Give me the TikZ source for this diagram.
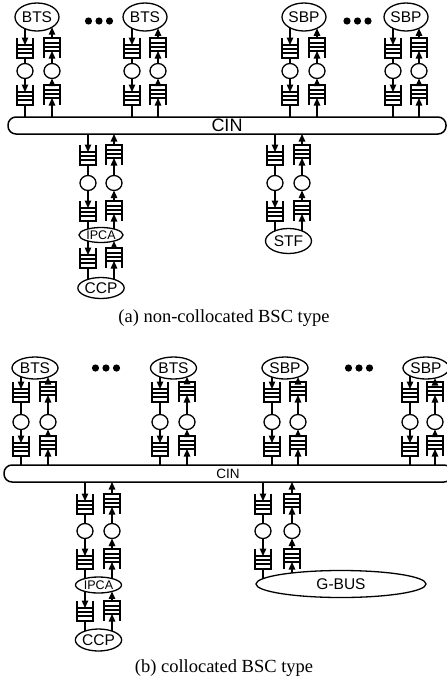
\documentclass[tikz,border=0pt]{standalone}
\usepackage{fontspec}
\setmainfont{Liberation Serif}
\newfontfamily\lsans{Liberation Sans}
\usetikzlibrary{arrows.meta,shapes.geometric,calc}

\tikzset{
  qbox/.style={minimum width=16pt, minimum height=20pt, inner sep=0pt, outer sep=0pt},
  smc/.style={ellipse, draw, minimum width=16pt, minimum height=15pt, inner sep=0pt, outer sep=0pt},
  ell/.style={ellipse, draw, inner sep=0pt, outer sep=0pt, font=\lsans\fontsize{15.5}{15.5}\selectfont},
  bar/.style={draw, rounded corners=8pt, inner sep=0pt, outer sep=0pt, line width=1.5pt},
  arr/.style={-{Triangle[length=7.5pt,width=6.5pt]}},
  captxt/.style={font=\fontsize{18.5}{20}\selectfont, inner sep=0pt},
}

\newcommand\EllPt[4]{%
  \path let \p1=(#1.center), \p2=(#2.center), \p3=(#2.east), \p4=(#2.#4) in
    (\x1,{\y2+(\y4-\y2)*sqrt(1-((\x1-\x2)/(\x3-\x2))^2)}) coordinate (#3);}

\newcommand\DQ[3]{%
  \node[qbox] (#1) at (#2,#3) {};
  \draw (#1.north west) -- (#1.south west) -- (#1.south east) -- (#1.north east)
    ([yshift=-7pt]#1.north west) -- ([yshift=-7pt]#1.north east)
    ([yshift=-11pt]#1.north west) -- ([yshift=-11pt]#1.north east)
    ([yshift=-15pt]#1.north west) -- ([yshift=-15pt]#1.north east);}
\newcommand\UQ[3]{%
  \node[qbox] (#1) at (#2,#3) {};
  \draw (#1.south west) -- (#1.north west) -- (#1.north east) -- (#1.south east)
    ([yshift=7pt]#1.south west) -- ([yshift=7pt]#1.south east)
    ([yshift=11pt]#1.south west) -- ([yshift=11pt]#1.south east)
    ([yshift=15pt]#1.south west) -- ([yshift=15pt]#1.south east);}
\newcommand\SC[3]{\node[smc] (#1) at (#2,#3) {};}

\newcommand\Qset[3]{%
  \DQ{#1d1}{#2}{\QyA}\SC{#1dc}{#2}{\QyB}\DQ{#1d2}{#2}{\QyC}
  \UQ{#1u1}{#3}{\QyA}\SC{#1uc}{#3}{\QyB}\UQ{#1u2}{#3}{\QyC}
  \draw (#1d1.south) -- (#1dc.north);
  \draw[arr] (#1dc.south) -- ([yshift=-7pt]#1d2.north);
  \draw[arr] (#1u2.north) -- (#1uc.south);
  \draw[arr] (#1uc.north) -- ([yshift=7pt]#1u1.south);}

\newcommand\TopGrp[5]{%
  \node[ell, minimum width=\EWd, minimum height=\EHt] (#1e) at (#4,\QyE) {#5};
  \Qset{#1}{#2}{#3}
  \EllPt{#1d1}{#1e}{#1el}{south}\EllPt{#1u1}{#1e}{#1er}{south}
  \draw[arr] (#1el) -- ([yshift=-7pt]#1d1.north);
  \draw[arr] (#1u1.north) -- (#1er);
  \draw (#1d2.south) -- (#1d2.south |- \QBar.north);
  \draw[arr] (\QBar.north -| #1u2) -- ([yshift=7pt]#1u2.south);}

\newcommand\LowTop[3]{%
  \Qset{#1}{#2}{#3}
  \draw[arr] (\QBar.south -| #1d1) -- ([yshift=-7pt]#1d1.north);
  \draw[arr] (#1u1.north) -- (#1u1.north |- \QBar.south);}

% join down-queue #1 and up-queue #2 (above) to ellipse #3 (below)
\newcommand\EllJoin[3]{%
  \EllPt{#1}{#3}{#1n}{north}\EllPt{#2}{#3}{#2n}{north}
  \draw (#1.south) -- (#1n);
  \draw[arr] (#2n) -- ([yshift=7pt]#2.south);}

\begin{document}
\begin{tikzpicture}[x=1pt, y=-1pt, line width=1.3pt]
\useasboundingbox (0,0) rectangle (447,686);

% ================= (a) =================
\node[bar, minimum width=438pt, minimum height=17pt, font=\lsans\fontsize{18}{18}\selectfont] (cinA) at (227,125.5) {CIN};
\def\QyE{17}\def\QyA{48}\def\QyB{71}\def\QyC{95}\def\EWd{44pt}\def\EHt{28pt}\def\QBar{cinA}
\TopGrp{Ab}{25}{52}{37}{BTS}
\TopGrp{Ac}{132}{158}{145}{BTS}
\TopGrp{Ad}{290}{317}{304}{SBP}
\TopGrp{Ae}{393}{419}{406}{SBP}
\foreach \x in {88.5,99,109.5,347,357.5,368} \fill (\x,21) circle[radius=3.6pt];

\def\QyA{155}\def\QyB{183}\def\QyC{211}
\LowTop{Al}{88}{114}
\node[ell, minimum width=44pt, minimum height=15pt, font=\lsans\fontsize{12.5}{12.5}\selectfont] (Aip) at (101,235) {IPCA};
\EllJoin{Ald2}{Alu2}{Aip}
\DQ{Ald3}{88}{258}\UQ{Alu3}{114}{258}
\EllPt{Ald3}{Aip}{Ald3s}{south}\EllPt{Alu3}{Aip}{Alu3s}{south}
\draw[arr] (Ald3s) -- ([yshift=-7pt]Ald3.north);
\draw[arr] (Alu3.north) -- (Alu3s);
\node[ell, minimum width=42pt, minimum height=21pt] (Accp) at (101,288) {CCP};
\EllJoin{Ald3}{Alu3}{Accp}

\LowTop{As}{275}{302}
\node[ell, minimum width=46pt, minimum height=25pt] (Astf) at (288.5,241) {STF};
\EllJoin{Asd2}{Asu2}{Astf}

\node[captxt] (capA) at (224,318) {(a) non-collocated BSC type};

% ================= (b) =================
\node[bar, minimum width=448pt, minimum height=17pt, font=\lsans\fontsize{13.5}{13.5}\selectfont] (cinB) at (228,473.5) {CIN};
\def\QyE{368}\def\QyA{392}\def\QyB{422}\def\QyC{446}\def\EWd{46pt}\def\EHt{22pt}\def\QBar{cinB}
\TopGrp{Bb}{21}{48}{35}{BTS}
\TopGrp{Bc}{160}{187}{173.5}{BTS}
\TopGrp{Bd}{272}{298}{285}{SBP}
\TopGrp{Be}{410}{435}{426}{SBP}
\foreach \x in {95.5,106,116.5,348.5,359,369.5} \fill (\x,368) circle[radius=3.6pt];

\def\QyA{504}\def\QyB{531}\def\QyC{559}
\LowTop{Bl}{85}{112}
\node[ell, minimum width=46pt, minimum height=16pt, font=\lsans\fontsize{12.5}{12.5}\selectfont] (Bip) at (98.5,585) {IPCA};
\EllJoin{Bld2}{Blu2}{Bip}
\DQ{Bld3}{85}{611}\UQ{Blu3}{112}{611}
\EllPt{Bld3}{Bip}{Bld3s}{south}\EllPt{Blu3}{Bip}{Blu3s}{south}
\draw[arr] (Bld3s) -- ([yshift=-7pt]Bld3.north);
\draw[arr] (Blu3.north) -- (Blu3s);
\node[ell, minimum width=46pt, minimum height=22pt] (Bccp) at (98.5,640) {CCP};
\EllJoin{Bld3}{Blu3}{Bccp}

\LowTop{Bg}{263}{292}
\node[ell, minimum width=170pt, minimum height=27pt] (Bgbus) at (341,584) {G-BUS};
\EllJoin{Bgd2}{Bgu2}{Bgbus}

\node[captxt] (capB) at (224,668) {(b) collocated BSC type};
\end{tikzpicture}
\end{document}
